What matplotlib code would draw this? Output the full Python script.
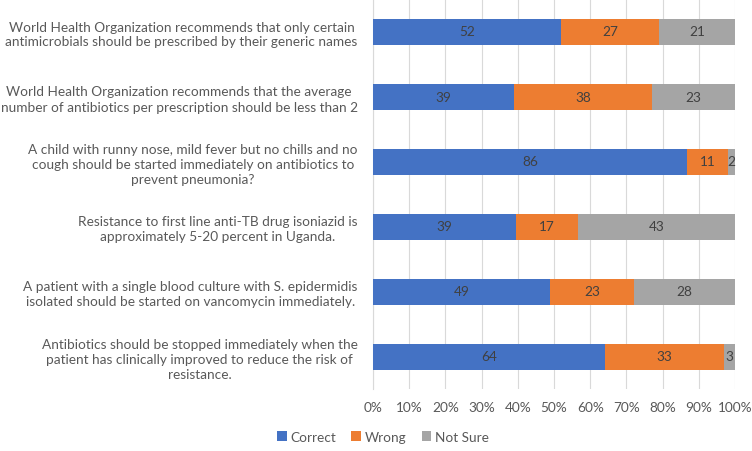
import matplotlib
matplotlib.use("Agg")
import matplotlib.pyplot as plt
import numpy as np

categories = [
    "World Health Organization recommends that only certain\nantimicrobials should be prescribed by their generic names",
    "World Health Organization recommends that the average\nnumber of antibiotics per prescription should be less than 2",
    "A child with runny nose, mild fever but no chills and no\ncough should be started immediately on antibiotics to\nprevent pneumonia?",
    "Resistance to first line anti-TB drug isoniazid is\napproximately 5-20 percent in Uganda.",
    "A patient with a single blood culture with S. epidermidis\nisolated should be started on vancomycin immediately.",
    "Antibiotics should be stopped immediately when the\npatient has clinically improved to reduce the risk of\nresistance.",
]
correct = [52, 39, 86, 39, 49, 64]
wrong = [27, 38, 11, 17, 23, 33]
not_sure = [21, 23, 2, 43, 28, 3]
series_names = ["Correct", "Wrong", "Not Sure"]
colors = ["#4472C4", "#ED7D31", "#A5A5A5"]
xticks = [0, 10, 20, 30, 40, 50, 60, 70, 80, 90, 100]

plt.rcParams['font.family'] = ['Lato', 'DejaVu Sans']
text_color = "#595959"
fs = 9.8

fig = plt.figure(figsize=(7.52, 4.52), dpi=100)
ax = fig.add_axes([373/752, 1 - 390/452, (735-373)/752, 390/452])

data = np.array([correct, wrong, not_sure], dtype=float)
totals = data.sum(axis=0)
pct = data / totals * 100
y = np.arange(len(categories))
left = np.zeros(len(categories))
for i, name in enumerate(series_names):
    bars = ax.barh(y, pct[i], left=left, height=0.4, color=colors[i], label=name, zorder=3)
    for j, b in enumerate(bars):
        ax.text(left[j] + pct[i][j] / 2, y[j], f"{int(data[i][j])}", ha="center", va="center",
                fontsize=fs, color="#404040", zorder=4)
    left += pct[i]

ax.set_xlim(0, 100)
ax.set_ylim(len(categories) - 0.5, -0.5)
ax.set_yticks(y)
ax.set_yticklabels(categories, fontsize=fs, color=text_color, multialignment="center",
                   linespacing=1.3)
ax.set_xticks(xticks)
ax.set_xticklabels([f"{t}%" for t in xticks], fontsize=fs, color=text_color)
ax.tick_params(axis="both", length=0)
ax.tick_params(axis="y", pad=11)
ax.tick_params(axis="x", pad=9)
ax.grid(axis="x", color="#D9D9D9", linewidth=0.8, zorder=0)
for s in ["top", "right", "bottom"]:
    ax.spines[s].set_visible(False)
ax.spines["left"].set_color("#D9D9D9")

handles, labels = ax.get_legend_handles_labels()
fig.legend(handles, labels, loc="center", bbox_to_anchor=(383/752, 1 - 438/452), ncol=3,
           frameon=False, fontsize=fs, labelcolor=text_color, handlelength=0.7,
           handleheight=0.7, handletextpad=0.3, columnspacing=1.1)

fig.savefig("out.png", dpi=100)
